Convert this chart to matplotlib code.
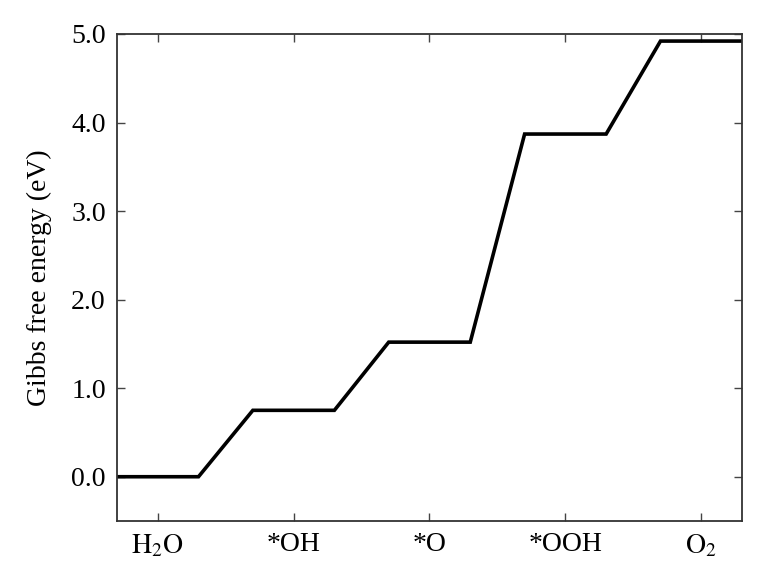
import matplotlib
matplotlib.use("Agg")
import matplotlib.pyplot as plt
import numpy as np

species = [r"$\mathrm{H_2O}$", "*OH", "*O", "*OOH", r"$\mathrm{O_2}$"]
energies = [0.0, 0.75, 1.52, 3.87, 4.92]
ytick_vals = [0.0, 1.0, 2.0, 3.0, 4.0, 5.0]
ytick_labels = ["0.0", "1.0", "2.0", "3.0", "4.0", "5.0"]

plt.rcParams["font.family"] = ["Liberation Serif", "STIXGeneral", "DejaVu Serif"]
plt.rcParams["mathtext.fontset"] = "stix"

fig = plt.figure(figsize=(7.66, 5.75), dpi=100)
ax = fig.add_axes([0.1527, 0.0939, 0.8160, 0.8470])

half = 0.3
xs, ys = [], []
for i, e in enumerate(energies):
    xs += [i - half, i + half]
    ys += [e, e]
ax.plot(xs, ys, color="black", lw=2.6, solid_joinstyle="miter")

ax.set_xlim(-0.3, 4.3)
ax.set_ylim(-0.5, 5.0)
ax.set_xticks(range(len(species)))
ax.set_xticklabels(species, fontsize=20)
ax.set_yticks(ytick_vals)
ax.set_yticklabels(ytick_labels, fontsize=20)
ax.set_ylabel("Gibbs free energy (eV)", fontsize=20, labelpad=14)
ax.tick_params(direction="in", top=True, right=True, length=6, width=1, pad=8,
               color="#444444")
for s in ax.spines.values():
    s.set_linewidth(1.3)
    s.set_color("#333333")

fig.savefig("out.png", dpi=100)
